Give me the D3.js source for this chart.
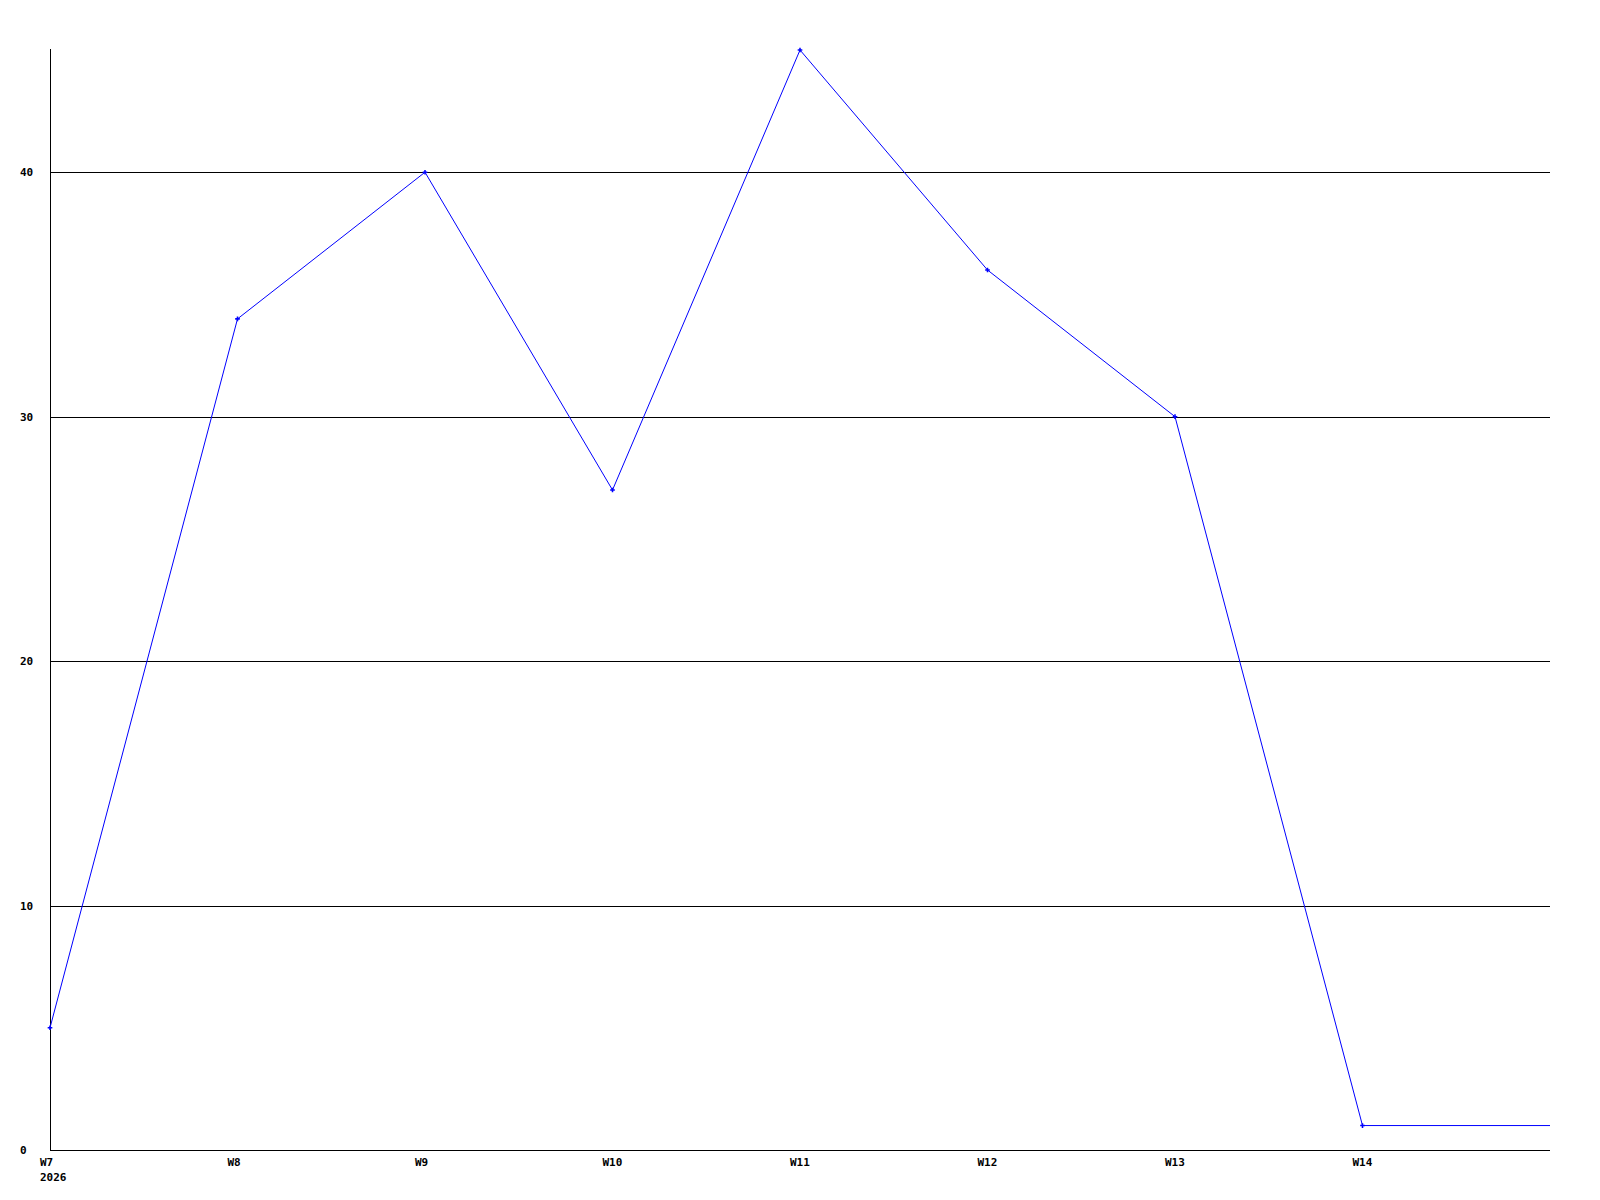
<!DOCTYPE html>
<html>
<head>
<meta charset="utf-8">
<script src="https://cdn.jsdelivr.net/npm/d3@7"></script>
<style>
    html, body { margin: 0; padding: 0; background: #fff; }
    svg text { font-family: "DejaVu Sans Mono", "Liberation Mono", monospace; font-weight: bold; font-size: 11px; fill: #000; }
</style>
</head>
<body>
<svg id="chart" width="1600" height="1200"></svg>
<script>
// Data
const weeks = ["W7", "W8", "W9", "W10", "W11", "W12", "W13", "W14"];
const yearLabel = "2026";
const values = [5, 34, 40, 27, 45, 36, 30, 1];
const yTicks = [0, 10, 20, 30, 40];

document.addEventListener("DOMContentLoaded", function() {
    const svg = d3.select("#chart");

    // Size settings
    const left = 50, right = 1550, top = 50, bottom = 1150;

    // Scales: one extra slot after the last week, the line runs on to the edge
    const x = d3.scaleLinear().domain([0, weeks.length]).range([left, right]);
    const y = d3.scaleLinear().domain([0, 45]).range([bottom, top]);

    // Gridlines
    svg.append("g")
        .selectAll("line")
        .data(yTicks.filter(d => d > 0))
        .enter().append("line")
        .attr("x1", left).attr("x2", right)
        .attr("y1", d => Math.round(y(d)) + 0.5)
        .attr("y2", d => Math.round(y(d)) + 0.5)
        .attr("stroke", "#000")
        .attr("stroke-width", 1);

    // Axes
    svg.append("line")
        .attr("x1", left + 0.5).attr("x2", left + 0.5)
        .attr("y1", top - 1).attr("y2", bottom)
        .attr("stroke", "#000");
    svg.append("line")
        .attr("x1", left).attr("x2", right)
        .attr("y1", bottom + 0.5).attr("y2", bottom + 0.5)
        .attr("stroke", "#000");

    // Y labels
    svg.append("g")
        .selectAll("text")
        .data(yTicks)
        .enter().append("text")
        .attr("x", 20)
        .attr("y", d => y(d) + 4)
        .text(d => d);

    // X labels (start a little left of each tick)
    svg.append("g")
        .selectAll("text")
        .data(weeks)
        .enter().append("text")
        .attr("x", (d, i) => x(i) - 10)
        .attr("y", bottom + 16)
        .text(d => d);
    svg.append("text")
        .attr("x", x(0) - 10)
        .attr("y", bottom + 31)
        .text(yearLabel);

    // Series line
    const pts = values.map((v, i) => [x(i), y(v)]);
    pts.push([x(weeks.length), y(values[values.length - 1])]);
    svg.append("path")
        .attr("d", d3.line()(pts))
        .attr("fill", "none")
        .attr("stroke", "#0000ff")
        .attr("stroke-width", 1);

    // Markers
    svg.append("g")
        .selectAll("path")
        .data(values)
        .enter().append("path")
        .attr("d", d3.symbol().type(d3.symbolCross).size(12))
        .attr("transform", (d, i) => `translate(${x(i)},${y(d)})`)
        .attr("fill", "#0000ff");
});
</script>
</body>
</html>
